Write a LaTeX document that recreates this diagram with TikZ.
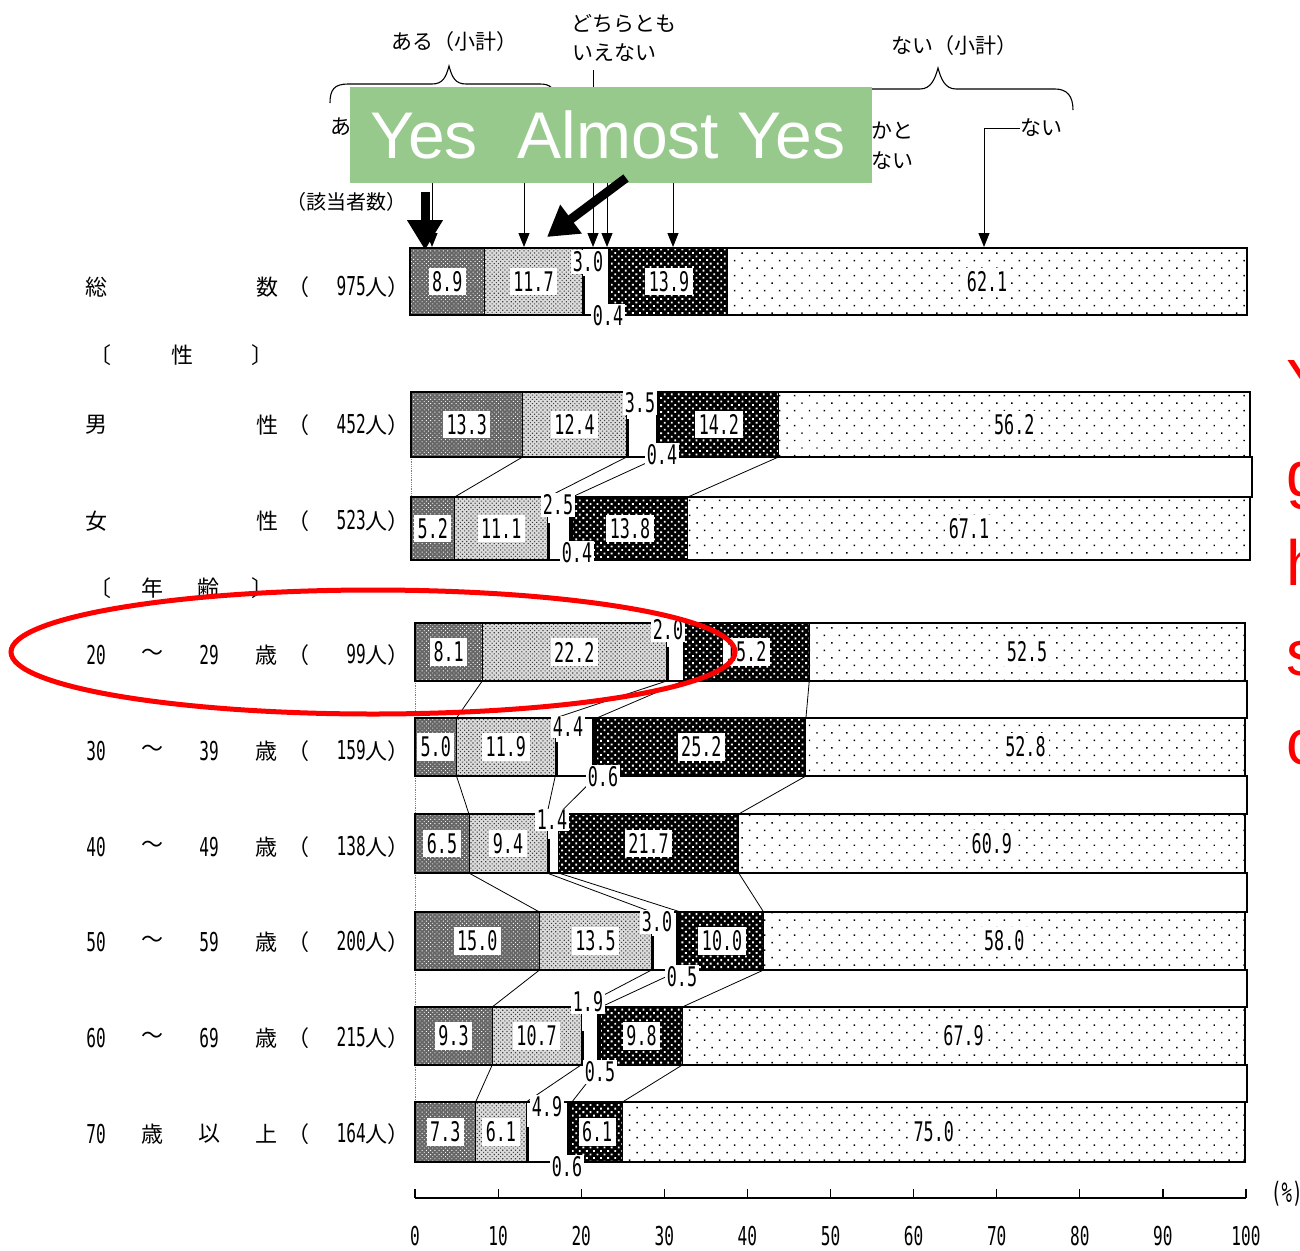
\documentclass[tikz,border=0pt]{standalone}
\usepackage{fontspec}
\usetikzlibrary{patterns.meta,arrows.meta}
\newfontfamily\jp{Noto Sans CJK JP}
\newfontfamily\numfont[FakeStretch=0.62]{DejaVu Sans Mono}
\newfontfamily\lsans{Liberation Sans}
\newcommand\numf{\numfont\fontsize{26}{26}\selectfont}
\definecolor{gboxc}{RGB}{151,201,140}

\tikzset{
  seg1/.style={preaction={fill=black!60}, pattern={Dots[distance=3pt,radius=0.65pt,angle=45]}, pattern color=white},
  seg2/.style={preaction={fill=black!14}, pattern={Dots[distance=3pt,radius=0.8pt,angle=45]}, pattern color=black!75},
  seg5/.style={preaction={fill=black}, pattern={Dots[distance=5pt,radius=1.3pt,angle=45]}, pattern color=white},
  seg6/.style={preaction={fill=white}, pattern={Dots[distance=10.6pt,radius=1.05pt,angle=45]}, pattern color=black},
  barframe/.style={draw=black, line width=1.6pt},
  divline/.style={draw=black, line width=0.9pt},
  vlab/.style={fill=white, inner sep=3.5pt, font=\numfont\fontsize{27}{27}\selectfont},
  slab/.style={fill=white, inner sep=1.5pt, font=\numfont\fontsize{27}{27}\selectfont},
  conn/.style={draw=black, line width=0.8pt},
  bandline/.style={draw=black, line width=1.2pt},
  jl/.style={inner sep=0pt, font=\jp\fontsize{22}{22}\selectfont},
  lg/.style={inner sep=0pt, font=\jp\fontsize{21}{21}\selectfont},
  larr/.style={draw=black, line width=1pt, -{Triangle[width=11pt,length=14pt]}},
  bigarr/.style={draw=black, line width=9pt, -{Triangle[width=34pt,length=30pt]}},
  bracel/.style={draw=black, line width=1.1pt},
  redtxt/.style={inner sep=0pt, text=red, font=\lsans\fontsize{64}{64}\selectfont, anchor=base west},
}

\newcommand\setbar[4]{\def\mybx{#1}\def\myex{#2}\def\myty{#3}\def\myby{#4}}
\newcommand\drawbar[7]{%
  \pgfmathsetmacro\segW{(\myex-\mybx)/100}%
  \pgfmathsetmacro\segA{\mybx+\segW*#2}%
  \pgfmathsetmacro\segB{\segA+\segW*#3}%
  \pgfmathsetmacro\segC{\segB+\segW*#4}%
  \pgfmathsetmacro\segD{\segC+\segW*#5}%
  \pgfmathsetmacro\segE{\segD+\segW*#6}%
  \pgfmathsetmacro\segM{(\myty+\myby)/2}%
  \path[seg1] (\mybx,\myty) rectangle (\segA,\myby);
  \path[seg2] (\segA,\myty) rectangle (\segB,\myby);
  \path[fill=black] (\segC,\myty) rectangle (\segD,\myby);
  \path[seg5] (\segD,\myty) rectangle (\segE,\myby);
  \path[seg6] (\segE,\myty) rectangle (\myex,\myby);
  \draw[divline] (\segA,\myty) -- (\segA,\myby);
  \draw[divline] (\segB,\myty) -- (\segB,\myby);
  \draw[divline] (\segD,\myty) -- (\segD,\myby);
  \draw[divline] (\segE,\myty) -- (\segE,\myby);
  \draw[line width=2.6pt] (\segB+1.3,{\myty+0.42*(\myby-\myty)}) -- (\segB+1.3,\myby);
  \draw[barframe] (\mybx,\myty) rectangle (\myex,\myby);
  \coordinate (#1-a-t) at (\segA,\myty); \coordinate (#1-a-b) at (\segA,\myby);
  \coordinate (#1-b-t) at (\segB,\myty); \coordinate (#1-b-b) at (\segB,\myby);
  \coordinate (#1-d-t) at (\segD,\myty); \coordinate (#1-d-b) at (\segD,\myby);
  \coordinate (#1-e-t) at (\segE,\myty); \coordinate (#1-e-b) at (\segE,\myby);
  \node[vlab] (#1-v1) at ({(\mybx+\segA)/2},\segM) {#2};
  \node[vlab] (#1-v2) at ({(\segA+\segB)/2},\segM) {#3};
  \node[vlab] (#1-v5) at ({(\segD+\segE)/2},\segM) {#6};
  \node[vlab] (#1-v6) at ({(\segE+\myex)/2},\segM) {#7};
}
\newcommand\lrow[5]{%
  \node[jl] (#1-a) at (96,#2) {#3};
  \node[jl] (#1-b) at (267,#2) {#4};
  \node[jl] (#1-p) at (298,#2) {（};
  \node[jl,anchor=east] (#1-n) at (410,#2) {{\numf #5}人）};
}
\newcommand\arow[7]{%
  \node[jl] (#1-a) at (96,#2) {#3};
  \node[jl] (#1-b) at (152,#2) {#4};
  \node[jl] (#1-c) at (209,#2) {#5};
  \node[jl] (#1-d) at (266,#2) {#6};
  \node[jl] (#1-p) at (298,#2) {（};
  \node[jl,anchor=east] (#1-n) at (410,#2) {{\numf #7}人）};
}

\begin{document}
\begin{tikzpicture}[x=1pt,y=-1pt]
\useasboundingbox (0,0) rectangle (1300,1250);
\clip (0,0) rectangle (1300,1250);
\fill[white] (0,0) rectangle (1300,1250);

% bands between bars
\foreach \bt/\bbm/\bl/\br in {457/497/411/1252, 681/718/415/1247, 776/814/415/1247, 873/912/415/1247, 970/1007/415/1247, 1065/1102/415/1247}{
  \draw[bandline] (\bl,\bt) -- (\br,\bt) -- (\br,\bbm) -- (\bl,\bbm);
  \draw[gray, densely dotted, line width=0.8pt] (\bl,\bt) -- (\bl,\bbm);
}

% bars
\setbar{410}{1247}{248}{315}\drawbar{t}{8.9}{11.7}{3.0}{0.4}{13.9}{62.1}
\setbar{411}{1250}{392}{457}\drawbar{m}{13.3}{12.4}{3.5}{0.4}{14.2}{56.2}
\setbar{411}{1250}{497}{560}\drawbar{f}{5.2}{11.1}{2.5}{0.4}{13.8}{67.1}
\setbar{415}{1245}{623}{681}\drawbar{a2}{8.1}{22.2}{2.0}{0.0}{15.2}{52.5}
\setbar{415}{1245}{718}{776}\drawbar{a3}{5.0}{11.9}{4.4}{0.6}{25.2}{52.8}
\setbar{415}{1245}{814}{873}\drawbar{a4}{6.5}{9.4}{1.4}{0.0}{21.7}{60.9}
\setbar{415}{1245}{912}{970}\drawbar{a5}{15.0}{13.5}{3.0}{0.5}{10.0}{58.0}
\setbar{415}{1245}{1007}{1065}\drawbar{a6}{9.3}{10.7}{1.9}{0.5}{9.8}{67.9}
\setbar{415}{1245}{1102}{1162}\drawbar{a7}{7.3}{6.1}{4.9}{0.6}{6.1}{75.0}

% connectors between bars
\foreach \u/\l in {m/f, a2/a3, a3/a4, a4/a5, a5/a6, a6/a7}{
  \foreach \k in {a,b,d,e}{
    \draw[conn] (\u-\k-b) -- (\l-\k-t);
  }
}

% small value labels
\node[slab] (t-v3) at (588,262) {3.0};
\node[slab] (t-v4) at (608,316) {0.4};
\node[slab] (m-v3) at (640,403) {3.5};
\node[slab] (m-v4) at (662,455) {0.4};
\node[slab] (f-v3) at (558,505) {2.5};
\node[slab] (f-v4) at (577,553) {0.4};
\node[slab] (a2-v3) at (668,630) {2.0};
\node[slab] (a3-v3) at (568,727) {4.4};
\node[slab] (a3-v4) at (603,777) {0.6};
\node[slab] (a4-v3) at (552,820) {1.4};
\node[slab] (a5-v3) at (657,922) {3.0};
\node[slab] (a5-v4) at (682,977) {0.5};
\node[slab] (a6-v3) at (588,1002) {1.9};
\node[slab] (a6-v4) at (600,1072) {0.5};
\node[slab] (a7-v3) at (547,1107) {4.9};
\node[slab] (a7-v4) at (567,1167) {0.6};

% axis
\draw[line width=1.4pt] (415,1198) -- (1246,1198);
\foreach \k/\lab in {0/0,1/10,2/20,3/30,4/40,5/50,6/60,7/70,8/80,9/90,10/100}{
  \draw[line width=1.2pt] ({415+83.1*\k},1189) -- ({415+83.1*\k},1198);
  \node[inner sep=0pt, font=\numf] (ax\k) at ({415+83.1*\k},1236) {\lab};
}
\node[inner sep=0pt, anchor=west, font=\numfont\fontsize{28}{28}\selectfont] (pct) at (1271,1194) {(\%)};

% left labels
\lrow{r0}{287}{総}{数}{975}
\node[jl] (g1-a) at (100,355) {〔};
\node[jl] (g1-b) at (182,355) {性};
\node[jl] (g1-c) at (262,355) {〕};
\lrow{r1}{425}{男}{性}{452}
\lrow{r2}{521}{女}{性}{523}
\node[jl] (g2-a) at (100,588) {〔};
\node[jl] (g2-b) at (152,588) {年};
\node[jl] (g2-c) at (208,588) {齢};
\node[jl] (g2-d) at (262,588) {〕};
\arow{r3}{655}{\numf 20}{〜}{\numf 29}{歳}{99}
\arow{r4}{751}{\numf 30}{〜}{\numf 39}{歳}{159}
\arow{r5}{847}{\numf 40}{〜}{\numf 49}{歳}{138}
\arow{r6}{942}{\numf 50}{〜}{\numf 59}{歳}{200}
\arow{r7}{1038}{\numf 60}{〜}{\numf 69}{歳}{215}
\arow{r8}{1134}{\numf 70}{歳}{以}{上}{164}

% legend
\node[lg] (lg-aru) at (454,42) {ある（小計）};
\node[lg] (lg-dochi1) at (624,24) {どちらとも};
\node[lg] (lg-dochi2) at (614,53) {いえない};
\node[lg] (lg-nais) at (954,46) {ない（小計）};
\node[lg, anchor=west] (lg-aru2) at (330,127) {ある};
\node[lg, anchor=east] (lg-ka1) at (914,131) {どちらかと};
\node[lg, anchor=east] (lg-ka2) at (914,160) {いえばない};
\node[lg] (lg-nai) at (1041,128) {ない};
\node[inner sep=0pt, font=\jp\fontsize{20}{20}\selectfont] (lg-n) at (346,202) {（該当者数）};
\draw[bracel] (330,103) .. controls (330,90) and (334,84) .. (348,84) -- (432,84) .. controls (443,84) and (446,77) .. (449,66) .. controls (452,77) and (455,84) .. (466,84) -- (540,84) .. controls (550,84) and (554,88) .. (554,96);
\draw[bracel] (830,100) .. controls (830,92) and (834,89) .. (846,89) -- (920,89) .. controls (931,89) and (935,79) .. (938,68) .. controls (941,79) and (945,89) .. (956,89) -- (1055,89) .. controls (1067,89) and (1073,96) .. (1073,110);

\coordinate (la1s) at (432,150); \coordinate (la1e) at (432,247);
\coordinate (la2s) at (524,150); \coordinate (la2e) at (524,247);
\coordinate (la3s) at (593,70);  \coordinate (la3e) at (593,247);
\coordinate (la4s) at (607,150); \coordinate (la4e) at (607,247);
\coordinate (la5s) at (673,150); \coordinate (la5e) at (673,247);
\coordinate (la6e) at (984,247);
\draw[larr] (la1s) -- (la1e);
\draw[larr] (la2s) -- (la2e);
\draw[larr] (la3s) -- (la3e);
\draw[larr] (la4s) -- (la4e);
\draw[larr] (la5s) -- (la5e);
\draw[larr] (lg-nai.west) -| (la6e);

% green box
\node[fill=gboxc, minimum width=522pt, minimum height=96pt, anchor=north west, inner sep=0pt] (gbox) at (350,87) {};
\node[inner sep=0pt, anchor=base west, text=white, font=\lsans\fontsize{66}{66}\selectfont] (gtext) at (370,158) {Yes\hspace{0.6em}Almost Yes};

% thick arrows
\coordinate (ba1s) at (425,192); \coordinate (ba1e) at (425,250);
\coordinate (ba2s) at (626,178); \coordinate (ba2e) at (547,237);
\draw[bigarr] (ba1s) -- (ba1e);
\draw[bigarr] (ba2s) -- (ba2e);

% red annotation
\draw[red, line width=5pt] (373,652) ellipse [x radius=362, y radius=62];
\node[redtxt] (rt1) at (1286,404) {Y};
\node[redtxt] (rt2) at (1286,496) {g};
\node[redtxt] (rt3) at (1286,585) {h};
\node[redtxt] (rt4) at (1286,675) {s};
\node[redtxt] (rt5) at (1286,764) {c};
\end{tikzpicture}
\end{document}
